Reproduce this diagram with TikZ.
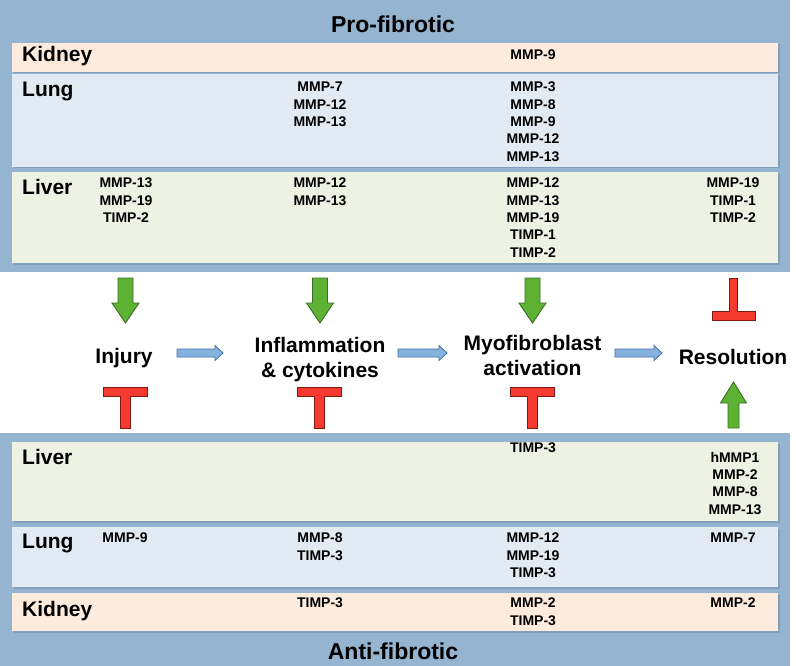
\documentclass[tikz,border=0pt]{standalone}
\usepackage{fontspec}
\setmainfont{Liberation Sans}
\definecolor{panelblue}{HTML}{94B4D0}
\definecolor{shadowc}{HTML}{819FBA}
\definecolor{kidneyc}{HTML}{FDEBDD}
\definecolor{lungc}{HTML}{E2EAF4}
\definecolor{liverc}{HTML}{EEF2E3}
\definecolor{greenf}{HTML}{5DB234}
\definecolor{greend}{HTML}{3B6E24}
\definecolor{redf}{HTML}{F53B2F}
\definecolor{redd}{HTML}{7E1A12}
\definecolor{bluef}{HTML}{86B2E0}
\definecolor{blued}{HTML}{4670A6}
\newcommand\mmpf{\fontsize{14}{17.3}\selectfont\bfseries}
\newcommand\orgf{\fontsize{21}{25}\selectfont\bfseries}
\newcommand\stgf{\fontsize{21}{25}\selectfont\bfseries}
\newcommand\titf{\fontsize{23}{27}\selectfont\bfseries}
\begin{document}
\begin{tikzpicture}[x=1pt,y=-1pt,
  panel/.style={fill=panelblue,draw=none},
  kband/.style={fill=kidneyc,draw=none},
  luband/.style={fill=lungc,draw=none},
  liband/.style={fill=liverc,draw=none},
  bshadow/.style={fill=shadowc,draw=none},
  org/.style={anchor=base west,inner sep=0pt,font=\orgf},
  mmp/.style={anchor=north,inner sep=0pt,align=center,font=\mmpf},
  stage/.style={anchor=north,inner sep=0pt,align=center,font=\stgf},
  ttl/.style={anchor=base,inner sep=0pt,font=\titf},
  garrow/.style={fill=greenf,draw=greend,line width=0.9pt,line join=miter},
  rbar/.style={fill=redf,draw=redd,line width=0.9pt,line join=miter},
  barrow/.style={fill=bluef,draw=blued,line width=0.8pt,line join=miter}]
\useasboundingbox (0,0) rectangle (796,666);
\fill[white] (0,0) rectangle (796,666);
% panels
\path[panel] (0,0) rectangle (790,272);
\path[panel] (0,433) rectangle (790,666);
% band shadows
\foreach \ya/\yb in {43/72,74/167,172/263,442/521,527/587,593/631}{
  \path[bshadow] (13.5,\ya+1.5) rectangle (779.5,\yb+1.5);
}
% top bands
\path[kband] (12,43) rectangle (778,72);
\path[luband] (12,74) rectangle (778,167);
\path[liband] (12,172) rectangle (778,263);
% bottom bands
\path[liband] (12,442) rectangle (778,521);
\path[luband] (12,527) rectangle (778,587);
\path[kband] (12,593) rectangle (778,631);
% titles
\node[ttl] (pro) at (393,33) {Pro-fibrotic};
\node[ttl] (anti) at (393,659) {Anti-fibrotic};
% organ labels top
\node[org] (tk) at (22,62) {Kidney};
\node[org] (tlu) at (22,97) {Lung};
\node[org] (tli) at (22,195) {Liver};
% organ labels bottom
\node[org] (bli) at (22,464) {Liver};
\node[org] (blu) at (22,548) {Lung};
\node[org] (bk) at (22,616) {Kidney};
% top entries
\node[mmp] (tk3) at (533,50) {MMP-9};
\node[mmp] (tlu2) at (320,82) {MMP-7\\MMP-12\\MMP-13};
\node[mmp] (tlu3) at (533,82) {MMP-3\\MMP-8\\MMP-9\\MMP-12\\MMP-13};
\node[mmp] (tli1) at (126,178) {MMP-13\\MMP-19\\TIMP-2};
\node[mmp] (tli2) at (320,178) {MMP-12\\MMP-13};
\node[mmp] (tli3) at (533,178) {MMP-12\\MMP-13\\MMP-19\\TIMP-1\\TIMP-2};
\node[mmp] (tli4) at (733,178) {MMP-19\\TIMP-1\\TIMP-2};
% bottom entries
\node[mmp] (bli3) at (533,443) {TIMP-3};
\node[mmp] (bli4) at (735,452) {hMMP1\\MMP-2\\MMP-8\\MMP-13};
\node[mmp] (blu1) at (125,533) {MMP-9};
\node[mmp] (blu2) at (320,533) {MMP-8\\TIMP-3};
\node[mmp] (blu3) at (533,533) {MMP-12\\MMP-19\\TIMP-3};
\node[mmp] (blu4) at (733,533) {MMP-7};
\node[mmp] (bk2) at (320,598) {TIMP-3};
\node[mmp] (bk3) at (533,598) {MMP-2\\TIMP-3};
\node[mmp] (bk4) at (733,598) {MMP-2};
% stages
\node[stage] (inj) at (124,348) {Injury};
\node[stage] (inf) at (320,337) {Inflammation\\\& cytokines};
\node[stage] (myo) at (532.5,335) {Myofibroblast\\activation};
\node[stage] (res) at (733,349) {Resolution};
% green down arrows
\foreach \cx in {125.5,320,532.5}{
  \draw[garrow] (\cx-7.5,278) -- (\cx+7.5,278) -- (\cx+7.5,303) -- (\cx+13.5,303)
    -- (\cx,323) -- (\cx-13.5,303) -- (\cx-7.5,303) -- cycle;
}
% green up arrow
\draw[garrow] (733.5-5.5,428) -- (733.5+5.5,428) -- (733.5+5.5,403) -- (733.5+13,403)
  -- (733.5,382) -- (733.5-13,403) -- (733.5-5.5,403) -- cycle;
% red T bars
\foreach \cx in {125.5,319.5,532}{
  \draw[rbar] (\cx-22,387) -- (\cx+22,387) -- (\cx+22,396) -- (\cx+5,396)
    -- (\cx+5,428) -- (\cx-5,428) -- (\cx-5,396) -- (\cx-22,396) -- cycle;
}
% red inverted T
\draw[rbar] (729.5,278) -- (737.5,278) -- (737.5,311) -- (755,311) -- (755,320)
  -- (712,320) -- (712,311) -- (729.5,311) -- cycle;
% blue arrows between stages
\foreach \xa/\xb in {177/223,398/447,615/662}{
  \draw[barrow] (\xa,349) -- (\xb-8,349) -- (\xb-8,345.5) -- (\xb,353) -- (\xb-8,360.5)
    -- (\xb-8,357) -- (\xa,357) -- cycle;
}
\end{tikzpicture}
\end{document}
